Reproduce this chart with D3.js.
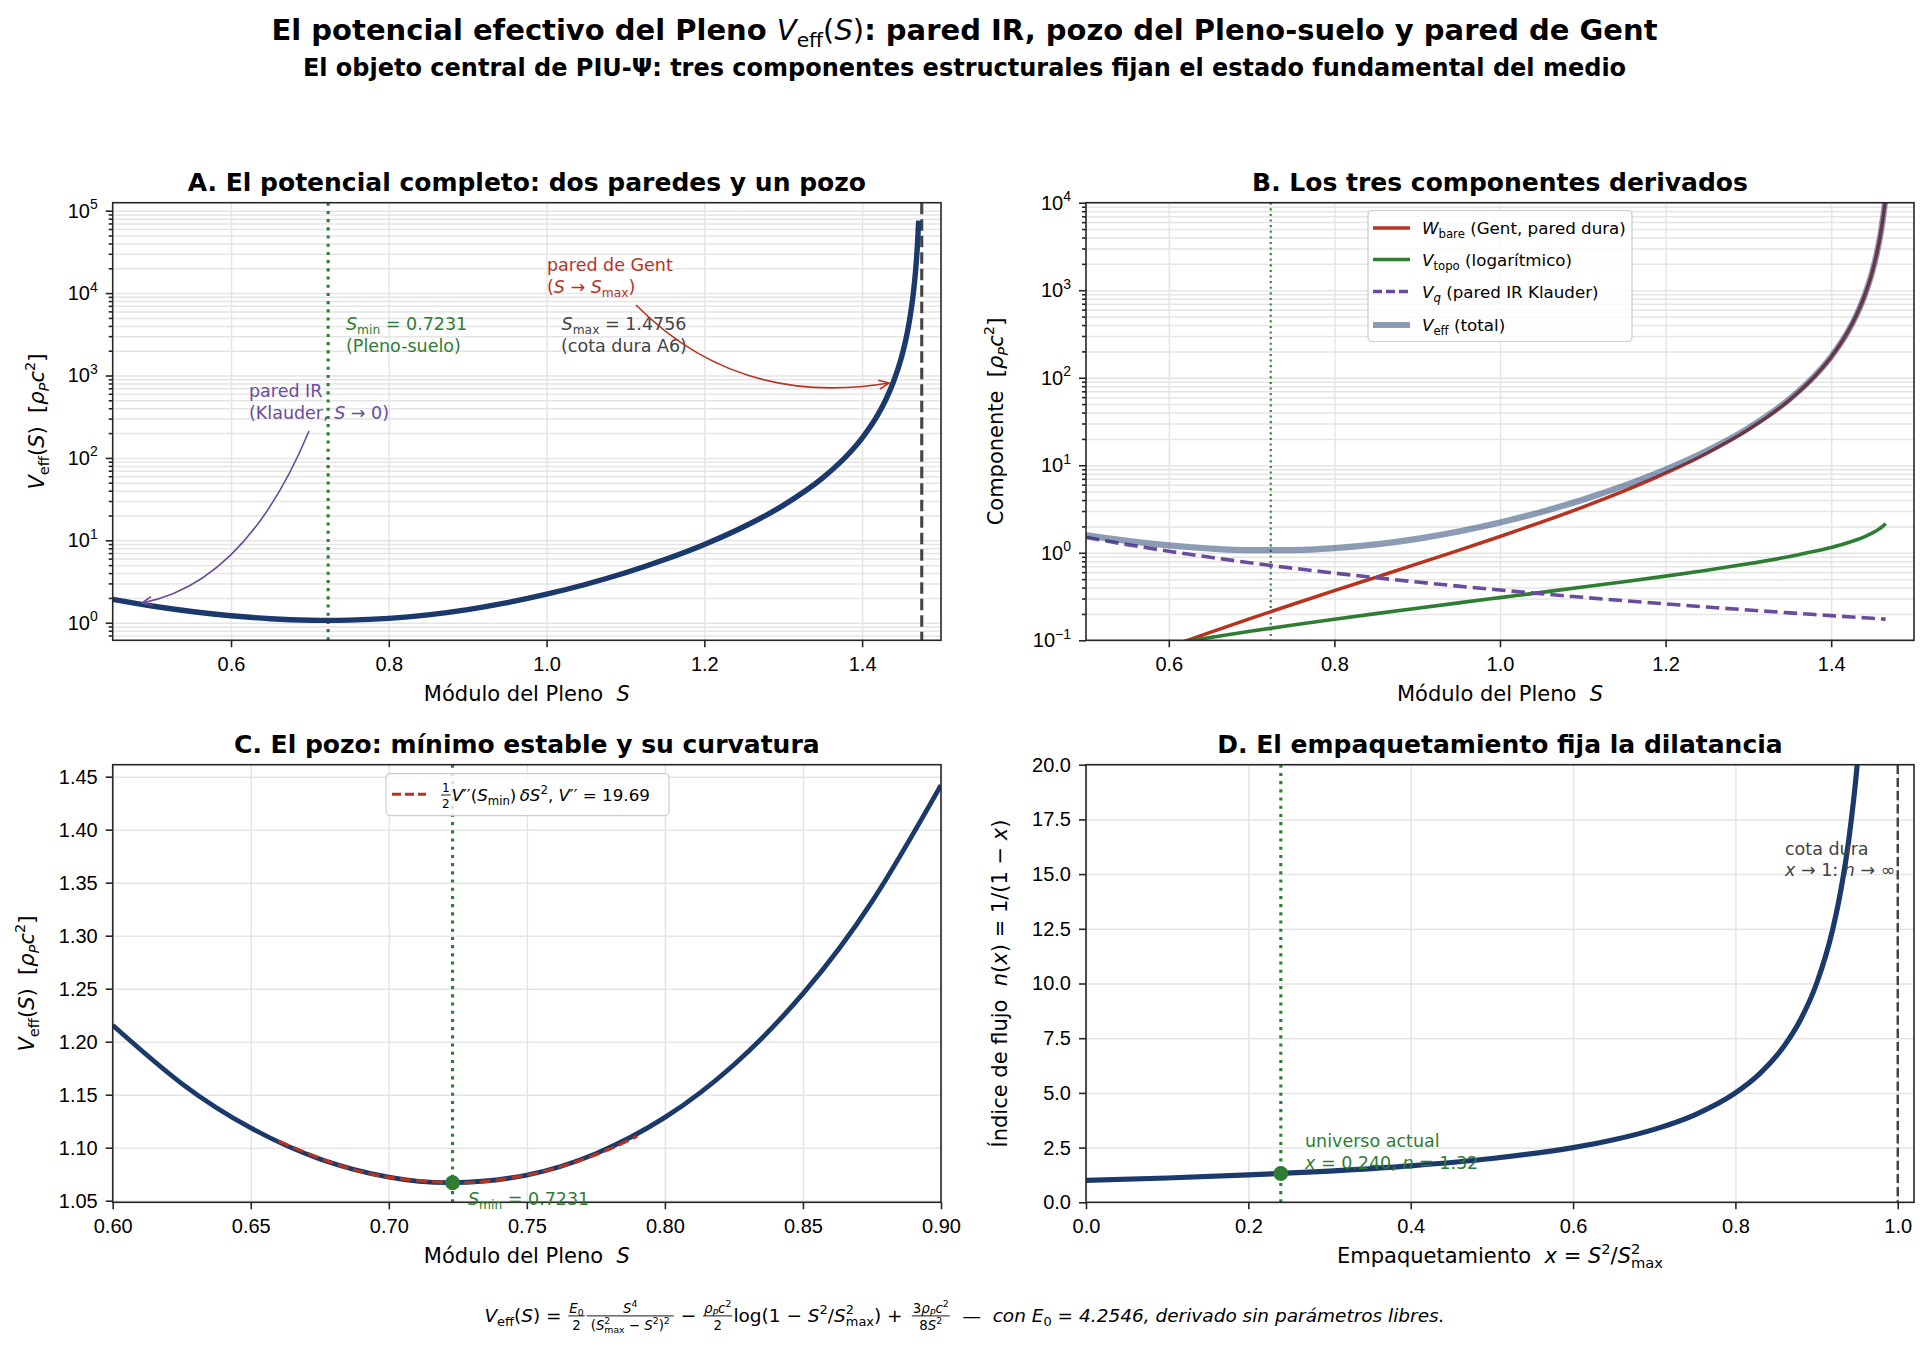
<!DOCTYPE html>
<meta charset="utf-8">
<style>
body { margin: 0; background: #fff; }
svg text { white-space: pre; }
</style>
<svg width="1929" height="1356"></svg>
<script src="https://cdn.jsdelivr.net/npm/d3@7"></script>
<script>

// ---- data ----
// panel A: full potential
var sA = [0.45, 0.5, 0.55, 0.6, 0.65, 0.7, 0.7231, 0.75, 0.8, 0.85, 0.9, 0.95, 1.0, 1.05, 1.1, 1.15,
          1.2, 1.25, 1.3, 1.35, 1.38, 1.4, 1.42, 1.43, 1.44, 1.45, 1.455, 1.46, 1.465, 1.468, 1.47, 1.4717];
var vA = [1.9230, 1.5968, 1.3698, 1.2155, 1.1187, 1.0722, 1.0670, 1.0742, 1.1286, 1.2453, 1.4420, 1.7492,
          2.2170, 2.9311, 4.0436, 5.8419, 8.9142, 14.608, 26.547, 57.213, 104.76, 174.26, 335.20, 508.31,
          850.73, 1678.3, 2618.0, 4611.1, 10088, 19743, 36510, 75536];

// panel B: the three components
var sB = [0.5, 0.55, 0.6, 0.625, 0.65, 0.7, 0.75, 0.8, 0.85, 0.9, 0.95, 1.0, 1.05, 1.1, 1.15, 1.2, 1.25,
          1.3, 1.35, 1.38, 1.4, 1.42, 1.43, 1.44, 1.45, 1.455, 1.46, 1.465, 1.4657];
var wB = [0.0358, 0.0554, 0.0835, 0.1017, 0.1233, 0.1794, 0.2581, 0.3687, 0.5246, 0.7465, 1.0660, 1.5346,
          2.2380, 3.3281, 5.0909, 8.1124, 13.736, 25.577, 56.100, 103.52, 172.92, 333.71, 506.73, 849.03,
          1676.5, 2616.0, 4609.0, 10086, 11582];
var tB = [0.0610, 0.0748, 0.0904, 0.0989, 0.1079, 0.1275, 0.1494, 0.1740, 0.2016, 0.2326, 0.2676, 0.3074,
          0.3530, 0.4056, 0.4675, 0.5414, 0.6322, 0.7484, 0.9070, 1.0382, 1.1521, 1.3023, 1.3997, 1.5217,
          1.6849, 1.7927, 1.9309, 2.1232, 2.157];
var qB = [1.5, 1.2397, 1.0417, 0.96, 0.8876, 0.7653, 0.6667, 0.5859, 0.5190, 0.4630, 0.4155, 0.375, 0.3401,
          0.3099, 0.2836, 0.2604, 0.24, 0.2219, 0.2058, 0.1969, 0.1913, 0.1860, 0.1834, 0.1808, 0.1784,
          0.1771, 0.1759, 0.1747, 0.1746];
var vB = [1.5968, 1.3698, 1.2155, 1.1605, 1.1187, 1.0722, 1.0742, 1.1286, 1.2453, 1.4420, 1.7492, 2.2170,
          2.9311, 4.0436, 5.8419, 8.9142, 14.608, 26.547, 57.213, 104.76, 174.26, 335.20, 508.31, 850.73,
          1678.3, 2618.0, 4611.1, 10088, 11584];

// panel C: the well
var sC = [0.6, 0.625, 0.65, 0.675, 0.7, 0.7231, 0.75, 0.775, 0.8, 0.825, 0.85, 0.875, 0.9];
var vC = [1.2155, 1.1605, 1.1187, 1.0894, 1.0722, 1.0670, 1.0742, 1.0944, 1.1286, 1.1783, 1.2453, 1.3321, 1.4420];
var sQ = [0.66, 0.68, 0.70, 0.7231, 0.74, 0.76, 0.78, 0.79];
var vQ = [1.1062, 1.0853, 1.0722, 1.0670, 1.0698, 1.0804, 1.0988, 1.1110];

// panel D: packing -> flow index
var xD = [0, 0.1, 0.2, 0.3, 0.4, 0.5, 0.6, 0.65, 0.7, 0.75, 0.8, 0.83, 0.86, 0.88, 0.9, 0.92, 0.93, 0.94, 0.95, 0.96];
var nD = [1, 1.1111, 1.25, 1.4286, 1.6667, 2, 2.5, 2.8571, 3.3333, 4, 5, 5.8824, 7.1429, 8.3333, 10, 12.5,
          14.2857, 16.6667, 20, 25];

var S_MIN = 0.7231, S_MAX = 1.4756, V_MIN = 1.0670, X_NOW = 0.240, N_NOW = 1.3158;

var ticksS = [0.6, 0.8, 1.0, 1.2, 1.4];
var ticksC = [0.60, 0.65, 0.70, 0.75, 0.80, 0.85, 0.90];
var ticksVC = [1.05, 1.10, 1.15, 1.20, 1.25, 1.30, 1.35, 1.40, 1.45];
var ticksXD = [0, 0.2, 0.4, 0.6, 0.8, 1.0];
var ticksND = [0, 2.5, 5, 7.5, 10, 12.5, 15, 17.5, 20];

var NAVY = "#1b3a6b", GREEN = "#2e7d32", RED = "#b8331f", PURPLE = "#6a4c9c", DARK = "#444444";
var FONT = "DejaVu Sans";

var svg = d3.select("svg");
svg.append("rect").attr("width", 1929).attr("height", 1356).attr("fill", "#fff");

// rich text: parts = [text, style, "back"], style words: it sub sup nw
function rich(t, parts, fs) {
  var shift = 0, prev = null;
  parts.forEach(function(p) {
    var st = p[1] || "";
    var isSub = st.indexOf("sub") >= 0, isSup = st.indexOf("sup") >= 0;
    var want = isSub ? 0.24 * fs : (isSup ? -0.42 * fs : 0);
    var sp = t.append("tspan").text(p[0]);
    if (want !== shift) sp.attr("dy", want - shift);
    if (p[2] === "back" && prev) sp.attr("dx", -prev.node().getComputedTextLength());
    shift = want;
    if (isSub || isSup) sp.attr("font-size", 0.7 * fs);
    if (st.indexOf("it") >= 0) sp.attr("font-style", "italic");
    if (st.indexOf("nw") >= 0) sp.attr("font-weight", "normal");
    prev = sp;
  });
  return t;
}

function txt(g, x, y, parts, fs, o) {
  o = o || {};
  var t = g.append("text").attr("x", x).attr("y", y)
      .attr("font-size", fs).attr("font-family", FONT)
      .attr("fill", o.fill || "#000")
      .attr("text-anchor", o.anchor || "start");
  if (o.weight) t.attr("font-weight", o.weight);
  if (o.transform) t.attr("transform", o.transform);
  return rich(t, parts, fs);
}

// a row of text runs and small fractions, starting at x=0 on baseline y=0
function mathRow(g, items, fs) {
  var x = 0;
  items.forEach(function(it) {
    if (it.frac) {
      var sf = fs * 0.72;
      var num = txt(g, 0, -0.5 * fs, it.frac[0], sf, {anchor: "middle"});
      var den = txt(g, 0, 0.42 * fs, it.frac[1], sf, {anchor: "middle"});
      var w = Math.max(num.node().getComputedTextLength(), den.node().getComputedTextLength()) + 4;
      num.attr("x", x + w / 2);
      den.attr("x", x + w / 2);
      g.append("line").attr("x1", x + 1).attr("x2", x + w - 1)
        .attr("y1", -0.33 * fs).attr("y2", -0.33 * fs)
        .attr("stroke", "#000").attr("stroke-width", 0.9);
      x += w;
    } else {
      var t = txt(g, x, 0, it.run, fs, {fill: it.fill});
      x += t.node().getComputedTextLength();
    }
  });
  return x;
}

function logMinors(lo, hi) {
  var out = [];
  for (var e = Math.floor(Math.log10(lo)); e <= Math.ceil(Math.log10(hi)); e++)
    for (var m = 2; m <= 9; m++) {
      var v = m * Math.pow(10, e);
      if (v > lo && v < hi) out.push(v);
    }
  return out;
}

var clipN = 0;
function panel(box, x, y, o) {
  var g = svg.append("g");
  var id = "clip" + (++clipN);
  svg.append("clipPath").attr("id", id).append("rect")
    .attr("x", box.l).attr("y", box.t).attr("width", box.r - box.l).attr("height", box.b - box.t);
  var grid = g.append("g");
  var data = g.append("g").attr("clip-path", "url(#" + id + ")");
  var ax = g.append("g").attr("font-family", FONT);
  var free = g.append("g");

  var yGrid = o.log ? o.yTicks.concat(logMinors(y.domain()[0], y.domain()[1])) : o.yTicks;
  grid.append("g").attr("transform", "translate(" + box.l + ",0)")
    .call(d3.axisLeft(y).tickValues(yGrid).tickSize(-(box.r - box.l)).tickFormat(""));
  grid.append("g").attr("transform", "translate(0," + box.b + ")")
    .call(d3.axisBottom(x).tickValues(o.xTicks).tickSize(-(box.b - box.t)).tickFormat(""));
  grid.selectAll(".domain").remove();
  grid.selectAll("line").attr("stroke", "#e5e5e5").attr("stroke-width", 1.5);

  ax.append("g").attr("transform", "translate(0," + box.b + ")")
    .call(d3.axisBottom(x).tickValues(o.xTicks).tickFormat(o.xFmt).tickSize(7).tickPadding(10).tickSizeOuter(0));
  var ya = ax.append("g").attr("transform", "translate(" + box.l + ",0)")
    .call(d3.axisLeft(y).tickValues(o.yTicks).tickFormat(o.log ? function() { return ""; } : o.yFmt)
      .tickSize(7).tickPadding(8).tickSizeOuter(0));
  if (o.log) {
    ya.selectAll(".tick text").each(function(d) {
      var e = Math.round(Math.log10(d));
      rich(d3.select(this), [["10", ""], [e < 0 ? "\u2212" + (-e) : "" + e, "sup"]], 20);
    });
    ax.append("g").attr("transform", "translate(" + box.l + ",0)")
      .call(d3.axisLeft(y).tickValues(logMinors(y.domain()[0], y.domain()[1])).tickSize(4).tickFormat(""));
  }
  ax.selectAll(".domain").remove();
  ax.selectAll(".tick line").attr("stroke", "#262626").attr("stroke-width", 1.6);
  ax.selectAll(".tick text").attr("font-size", 20).attr("fill", "#000");
  ax.append("rect").attr("x", box.l).attr("y", box.t)
    .attr("width", box.r - box.l).attr("height", box.b - box.t)
    .attr("fill", "none").attr("stroke", "#262626").attr("stroke-width", 1.6);

  txt(ax, (box.l + box.r) / 2, box.t - 12, [[o.title, ""]], 25, {anchor: "middle", weight: "bold"});
  txt(ax, (box.l + box.r) / 2, box.b + 61, o.xLabel, 21, {anchor: "middle"});
  txt(ax, 0, 0, o.yLabel, 21, {anchor: "middle",
      transform: "translate(" + o.yLabelX + "," + (box.t + box.b) / 2 + ") rotate(-90)"});
  return {data: data, free: free};
}

function pts(xs, ys) { return xs.map(function(v, i) { return [v, ys[i]]; }); }
function lineOf(x, y, curve) {
  return d3.line().x(function(d) { return x(d[0]); }).y(function(d) { return y(d[1]); }).curve(curve || d3.curveMonotoneX);
}
function vline(g, x, v, box, color, w, dash) {
  g.append("line").attr("x1", x(v)).attr("x2", x(v)).attr("y1", box.t).attr("y2", box.b)
    .attr("stroke", color).attr("stroke-width", w).attr("stroke-dasharray", dash);
}
function arrow(g, p0, c, p1, color) {
  g.append("path").attr("d", "M" + p0 + "Q" + c + " " + p1)
    .attr("fill", "none").attr("stroke", color).attr("stroke-width", 1.6);
  var a = Math.atan2(p1[1] - c[1], p1[0] - c[0]), L = 11, h = 0.42;
  var l1 = [p1[0] - L * Math.cos(a - h), p1[1] - L * Math.sin(a - h)];
  var l2 = [p1[0] - L * Math.cos(a + h), p1[1] - L * Math.sin(a + h)];
  g.append("path").attr("d", "M" + l1 + "L" + p1 + "L" + l2)
    .attr("fill", "none").attr("stroke", color).attr("stroke-width", 1.6);
}

var colL = [112.7, 941], colR = [1086, 1914], rowT = [202.7, 640.3], rowB = [764.7, 1202.3];
var boxA = {l: colL[0], r: colL[1], t: rowT[0], b: rowT[1]};
var boxB = {l: colR[0], r: colR[1], t: rowT[0], b: rowT[1]};
var boxC = {l: colL[0], r: colL[1], t: rowB[0], b: rowB[1]};
var boxD = {l: colR[0], r: colR[1], t: rowB[0], b: rowB[1]};

var labS = [["M\u00f3dulo del Pleno  ", ""], ["S", "it"]];
var labV = [["V", "it"], ["eff", "sub"], ["(", ""], ["S", "it"], [")  [", ""], ["\u03c1", "it"], ["P", "it sub"],
            ["c", "it"], ["2", "sup"], ["]", ""]];

// ---------- Panel A ----------
var xA = d3.scaleLinear().domain([0.45, 1.5]).range(colL);
var yA = d3.scaleLog().domain([0.612, 1.25e5]).range([rowT[1], rowT[0]]);
var pA = panel(boxA, xA, yA, {log: true, xTicks: ticksS, xFmt: d3.format(".1f"), yTicks: [1, 10, 100, 1e3, 1e4, 1e5],
  title: "A. El potencial completo: dos paredes y un pozo", xLabel: labS, yLabel: labV, yLabelX: 44});
vline(pA.data, xA, S_MIN, boxA, GREEN, 3.1, "3.1,5.1");
vline(pA.data, xA, S_MAX, boxA, DARK, 3.1, "11.5,5");
pA.data.append("path").datum(pts(sA, vA)).attr("d", lineOf(xA, yA))
  .attr("fill", "none").attr("stroke", NAVY).attr("stroke-width", 5.4);

txt(pA.free, 346, 330, [["S", "it"], ["min", "sub"], [" = 0.7231", ""]], 17.5, {fill: GREEN});
txt(pA.free, 346, 352, [["(Pleno-suelo)", ""]], 17.5, {fill: GREEN});
txt(pA.free, 624, 330, [["S", "it"], ["max", "sub"], [" = 1.4756", ""]], 17.5, {fill: DARK, anchor: "middle"});
txt(pA.free, 624, 352, [["(cota dura A6)", ""]], 17.5, {fill: DARK, anchor: "middle"});
txt(pA.free, 547, 271, [["pared de Gent", ""]], 17.5, {fill: RED});
txt(pA.free, 547, 293, [["(", ""], ["S", "it"], [" \u2192 ", ""], ["S", "it"], ["max", "sub"], [")", ""]], 17.5, {fill: RED});
txt(pA.free, 249, 397, [["pared IR", ""]], 17.5, {fill: PURPLE});
txt(pA.free, 249, 419, [["(Klauder, ", ""], ["S", "it"], [" \u2192 0)", ""]], 17.5, {fill: PURPLE});
arrow(pA.free, [309, 431], [246, 583], [142, 603], PURPLE);
arrow(pA.free, [636, 305], [738, 408], [889, 383], RED);

// ---------- Panel B ----------
var xB = d3.scaleLinear().domain([0.5, 1.5]).range(colR);
var yB = d3.scaleLog().domain([0.1, 1e4]).range([rowT[1], rowT[0]]);
var pB = panel(boxB, xB, yB, {log: true, xTicks: ticksS, xFmt: d3.format(".1f"), yTicks: [0.1, 1, 10, 100, 1e3, 1e4],
  title: "B. Los tres componentes derivados", xLabel: labS,
  yLabel: [["Componente  [", ""], ["\u03c1", "it"], ["P", "it sub"], ["c", "it"], ["2", "sup"], ["]", ""]], yLabelX: 1003});
vline(pB.data, xB, S_MIN, boxB, GREEN, 2.1, "2.1,3.5");
var seriesB = [
  {y: wB, color: RED, w: 3.5, dash: null, op: 1},
  {y: tB, color: GREEN, w: 3.6, dash: null, op: 1},
  {y: qB, color: PURPLE, w: 3.6, dash: "13.5,6", op: 1},
  {y: vB, color: NAVY, w: 6.2, dash: null, op: 0.5}
];
seriesB.forEach(function(s) {
  pB.data.append("path").datum(pts(sB, s.y)).attr("d", lineOf(xB, yB))
    .attr("fill", "none").attr("stroke", s.color).attr("stroke-width", s.w)
    .attr("stroke-dasharray", s.dash).attr("stroke-opacity", s.op);
});
var legB = pB.free.append("g");
legB.append("rect").attr("x", 1368).attr("y", 210.5).attr("width", 264).attr("height", 131).attr("rx", 4)
  .attr("fill", "#fff").attr("fill-opacity", 0.8).attr("stroke", "#cccccc").attr("stroke-width", 1.2);
var legItems = [
  [["W", "it"], ["bare", "sub"], [" (Gent, pared dura)", ""]],
  [["V", "it"], ["topo", "sub"], [" (logar\u00edtmico)", ""]],
  [["V", "it"], ["q", "it sub"], [" (pared IR Klauder)", ""]],
  [["V", "it"], ["eff", "sub"], [" (total)", ""]]
];
var legY = [228, 259.5, 291.5, 325];
seriesB.forEach(function(s, i) {
  legB.append("line").attr("x1", 1373).attr("x2", 1410).attr("y1", legY[i]).attr("y2", legY[i])
    .attr("stroke", s.color).attr("stroke-width", s.w).attr("stroke-dasharray", s.dash ? "9,4" : null)
    .attr("stroke-opacity", s.op);
  txt(legB, 1422, legY[i] + 6, legItems[i], 16.7);
});

// ---------- Panel C ----------
var xC = d3.scaleLinear().domain([0.6, 0.9]).range(colL);
var yC = d3.scaleLinear().domain([1.0485, 1.4613]).range([rowB[1], rowB[0]]);
var pC = panel(boxC, xC, yC, {xTicks: ticksC, xFmt: d3.format(".2f"), yTicks: ticksVC, yFmt: d3.format(".2f"),
  title: "C. El pozo: m\u00ednimo estable y su curvatura", xLabel: labS, yLabel: labV, yLabelX: 34});
vline(pC.data, xC, S_MIN, boxC, GREEN, 3.1, "3.1,5.1");
pC.data.append("path").datum(pts(sC, vC)).attr("d", lineOf(xC, yC, d3.curveNatural))
  .attr("fill", "none").attr("stroke", NAVY).attr("stroke-width", 4.8);
pC.data.append("path").datum(pts(sQ, vQ)).attr("d", lineOf(xC, yC, d3.curveNatural))
  .attr("fill", "none").attr("stroke", RED).attr("stroke-width", 3.1).attr("stroke-dasharray", "11,5");
pC.free.append("circle").attr("cx", xC(S_MIN)).attr("cy", yC(V_MIN)).attr("r", 7.5).attr("fill", GREEN);
txt(pC.free, 468, 1205, [["S", "it"], ["min", "sub"], [" = 0.7231", ""]], 17.5, {fill: GREEN});
var legC = pC.free.append("g");
legC.append("rect").attr("x", 386).attr("y", 773.6).attr("width", 283).attr("height", 42).attr("rx", 4)
  .attr("fill", "#fff").attr("fill-opacity", 0.8).attr("stroke", "#cccccc").attr("stroke-width", 1.2);
legC.append("line").attr("x1", 392).attr("x2", 426).attr("y1", 794.3).attr("y2", 794.3)
  .attr("stroke", RED).attr("stroke-width", 3.1).attr("stroke-dasharray", "9,4");
var rowC = legC.append("g").attr("transform", "translate(440,800.5)");
mathRow(rowC, [
  {frac: [[["1", ""]], [["2", ""]]]},
  {run: [["V", "it"], ["\u2032\u2032", ""], ["(", ""], ["S", "it"], ["min", "sub"], [")\u2009", ""], ["\u03b4S", "it"], ["2", "sup"],
         [", ", ""], ["V", "it"], ["\u2032\u2032", ""], [" = 19.69", ""]]}
], 16.7);

// ---------- Panel D ----------
var xDs = d3.scaleLinear().domain([0, 1.02]).range(colR);
var yDs = d3.scaleLinear().domain([0, 20]).range([rowB[1], rowB[0]]);
var pD = panel(boxD, xDs, yDs, {xTicks: ticksXD, xFmt: d3.format(".1f"), yTicks: ticksND, yFmt: d3.format(".1f"),
  title: "D. El empaquetamiento fija la dilatancia",
  xLabel: [["Empaquetamiento  ", ""], ["x", "it"], [" = ", ""], ["S", "it"], ["2", "sup"], ["/", ""], ["S", "it"],
           ["2", "sup"], ["max", "sub", "back"]],
  yLabel: [["\u00cdndice de flujo  ", ""], ["n", "it"], ["(", ""], ["x", "it"], [") = 1/(1 \u2212 ", ""], ["x", "it"], [")", ""]],
  yLabelX: 1007});
vline(pD.data, xDs, X_NOW, boxD, GREEN, 3.1, "3.1,5.1");
vline(pD.data, xDs, 1.0, boxD, DARK, 2.5, "9.2,4");
pD.data.append("path").datum(pts(xD, nD)).attr("d", lineOf(xDs, yDs))
  .attr("fill", "none").attr("stroke", NAVY).attr("stroke-width", 5.2);
pD.free.append("circle").attr("cx", xDs(X_NOW)).attr("cy", yDs(N_NOW)).attr("r", 7.5).attr("fill", GREEN);
txt(pD.free, 1305, 1147, [["universo actual", ""]], 17.5, {fill: GREEN});
txt(pD.free, 1305, 1169, [["x", "it"], [" = 0.240, ", ""], ["n", "it"], [" = 1.32", ""]], 17.5, {fill: GREEN});
txt(pD.free, 1785, 855, [["cota dura", ""]], 17.5, {fill: DARK});
txt(pD.free, 1785, 876, [["x", "it"], [" \u2192 1: ", ""], ["n", "it"], [" \u2192 \u221e", ""]], 17.5, {fill: DARK});

// ---------- titles ----------
txt(svg, 964.5, 40, [["El potencial efectivo del Pleno ", ""], ["V", "it nw"], ["eff", "sub nw"], ["(", "nw"],
    ["S", "it nw"], [")", "nw"], [": pared IR, pozo del Pleno-suelo y pared de Gent", ""]], 29,
    {anchor: "middle", weight: "bold"});
txt(svg, 964.5, 76, [["El objeto central de PIU-\u03a8: tres componentes estructurales fijan el estado fundamental del medio", ""]],
    24, {anchor: "middle", weight: "bold"});

// ---------- footer formula ----------
var foot = svg.append("g");
var fw = mathRow(foot, [
  {run: [["V", "it"], ["eff", "sub"], ["(", ""], ["S", "it"], [") = ", ""]]},
  {frac: [[["E", "it"], ["0", "sub"]], [["2", ""]]]},
  {frac: [[["S", "it"], ["4", "sup"]], [["(", ""], ["S", "it"], ["2", "sup"], ["max", "sub", "back"], [" \u2212 ", ""],
          ["S", "it"], ["2", "sup"], [")", ""], ["2", "sup"]]]},
  {run: [[" \u2212 ", ""]]},
  {frac: [[["\u03c1", "it"], ["P", "it sub"], ["c", "it"], ["2", "sup"]], [["2", ""]]]},
  {run: [["log(1 \u2212 ", ""], ["S", "it"], ["2", "sup"], ["/", ""], ["S", "it"], ["2", "sup"], ["max", "sub", "back"],
         [") +", ""]]},
  {frac: [[["3", ""], ["\u03c1", "it"], ["P", "it sub"], ["c", "it"], ["2", "sup"]], [["8", ""], ["S", "it"], ["2", "sup"]]]},
  {run: [["  \u2014  ", ""], ["con ", "it"], ["E", "it"], ["0", "sub"], [" = 4.2546, derivado sin par\u00e1metros libres.", "it"]]}
], 18.5);
foot.attr("transform", "translate(" + (964.5 - fw / 2) + ",1322)");

</script>
